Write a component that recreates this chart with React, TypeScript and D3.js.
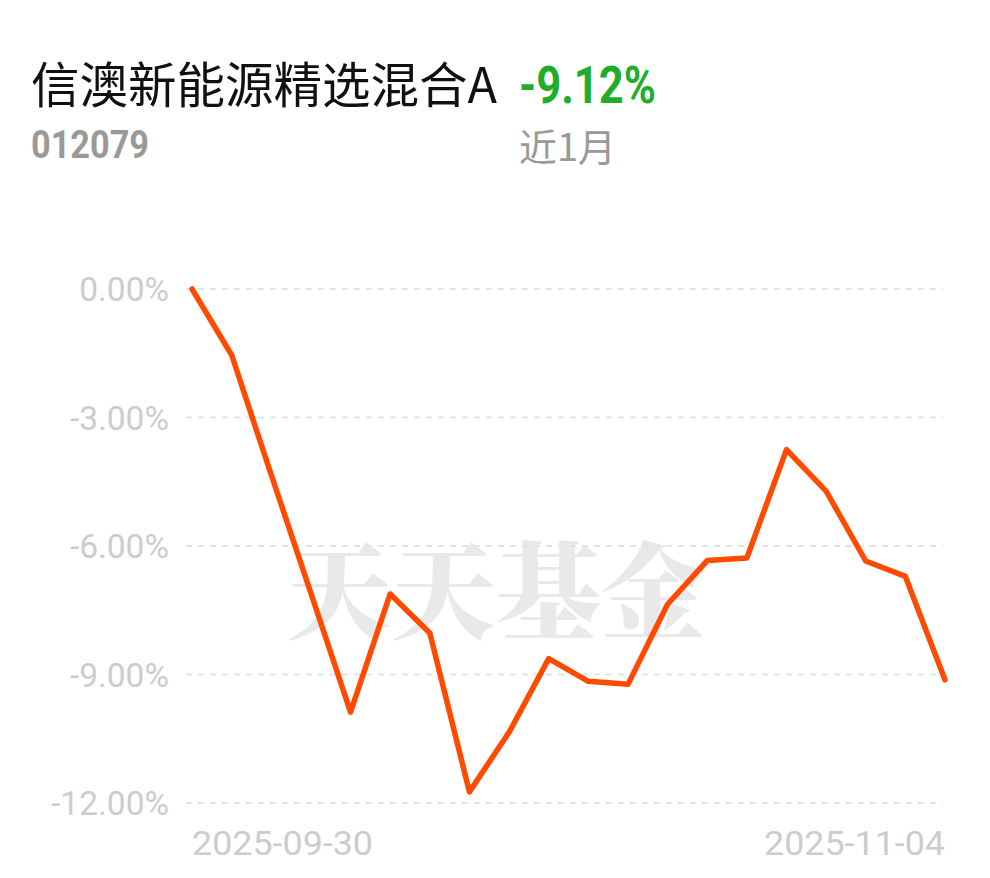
import React, { useEffect, useRef } from "react";
import * as d3 from "d3";

const dates = [
  "2025-09-30", "2025-10-09", "2025-10-10", "2025-10-13", "2025-10-14",
  "2025-10-15", "2025-10-16", "2025-10-17", "2025-10-20", "2025-10-21",
  "2025-10-22", "2025-10-23", "2025-10-24", "2025-10-27", "2025-10-28",
  "2025-10-29", "2025-10-30", "2025-10-31", "2025-11-03", "2025-11-04",
];
const returns = [
  0, -1.54, -4.34, -7.1, -9.88, -7.12, -8.03, -11.74, -10.35, -8.63,
  -9.16, -9.23, -7.36, -6.34, -6.28, -3.75, -4.72, -6.35, -6.71, -9.12,
];
const yTicks = [0, -3, -6, -9, -12];
const xTickLabels = ["2025-09-30", "2025-11-04"];

const fundName = "信澳新能源精选混合A";
const fundCode = "012079";
const periodReturn = "-9.12%";
const periodLabel = "近1月";

const App = () => {
  const ref = useRef<SVGSVGElement>(null);

  useEffect(() => {
    const svg = d3.select(ref.current);
    svg.selectAll("*").remove();

    const width = 990;
    const height = 878;
    const margin = { top: 289, right: 45, bottom: 75, left: 192 };

    svg.attr("width", width).attr("height", height);

    const x = d3
      .scalePoint()
      .domain(dates)
      .range([margin.left, width - margin.right]);

    const y = d3
      .scaleLinear()
      .domain([-12, 0])
      .range([height - margin.bottom, margin.top]);

    // header
    svg
      .append("text")
      .attr("x", 31)
      .attr("y", 103)
      .attr("font-family", "'Noto Sans CJK SC', sans-serif")
      .attr("font-size", 48.5)
      .attr("fill", "#111")
      .text(fundName);

    svg
      .append("text")
      .attr("x", 519)
      .attr("y", 103)
      .attr("font-family", "Roboto, sans-serif")
      .attr("font-weight", 700)
      .attr("font-size", 52)
      .attr("textLength", 137)
      .attr("lengthAdjust", "spacingAndGlyphs")
      .attr("fill", "#1fad2b")
      .text(periodReturn);

    svg
      .append("text")
      .attr("x", 31)
      .attr("y", 158)
      .attr("font-family", "Roboto, sans-serif")
      .attr("font-weight", 700)
      .attr("font-size", 39)
      .attr("textLength", 118)
      .attr("lengthAdjust", "spacingAndGlyphs")
      .attr("fill", "#999")
      .text(fundCode);

    svg
      .append("text")
      .attr("x", 519)
      .attr("y", 161)
      .attr("font-family", "'Noto Sans CJK SC', sans-serif")
      .attr("font-size", 38)
      .attr("fill", "#999")
      .text(periodLabel);

    // watermark
    svg
      .append("text")
      .attr("x", 496)
      .attr("y", 630)
      .attr("text-anchor", "middle")
      .attr("font-family", "'Noto Serif CJK SC', 'Noto Sans CJK SC', serif")
      .attr("font-weight", 900)
      .attr("font-size", 105)
      .attr("fill", "#e9e9e9")
      .text("天天基金");

    // grid
    svg
      .append("g")
      .selectAll("line")
      .data(yTicks)
      .enter()
      .append("line")
      .attr("x1", 186)
      .attr("x2", 943)
      .attr("y1", (d) => y(d))
      .attr("y2", (d) => y(d))
      .attr("stroke", "#e3e3e3")
      .attr("stroke-width", 2)
      .attr("stroke-dasharray", "6,6");

    // Y labels
    svg
      .append("g")
      .selectAll("text")
      .data(yTicks)
      .enter()
      .append("text")
      .attr("x", 169)
      .attr("y", (d) => y(d))
      .attr("dy", "0.36em")
      .attr("text-anchor", "end")
      .attr("font-family", "Roboto, sans-serif")
      .attr("font-size", 33.5)
      .attr("fill", "#cccccc")
      .text((d) => d.toFixed(2) + "%");

    // X labels
    svg
      .append("g")
      .selectAll("text")
      .data(xTickLabels)
      .enter()
      .append("text")
      .attr("x", (d) => x(d)!)
      .attr("y", 855)
      .attr("text-anchor", (d, i) => (i === 0 ? "start" : "end"))
      .attr("font-family", "Roboto, sans-serif")
      .attr("font-size", 34)
      .attr("textLength", 181)
      .attr("lengthAdjust", "spacingAndGlyphs")
      .attr("fill", "#cccccc")
      .text((d) => d);

    // line
    const line = d3
      .line<number>()
      .x((d, i) => x(dates[i])!)
      .y((d) => y(d));

    svg
      .append("path")
      .datum(returns)
      .attr("d", line)
      .attr("fill", "none")
      .attr("stroke", "#ff4a00")
      .attr("stroke-width", 5.5)
      .attr("stroke-linejoin", "round")
      .attr("stroke-linecap", "round");
  }, []);

  return (
    <svg
      ref={ref}
      style={{ position: "absolute", left: 0, top: 0, background: "#fff" }}
    ></svg>
  );
};

export default App;
